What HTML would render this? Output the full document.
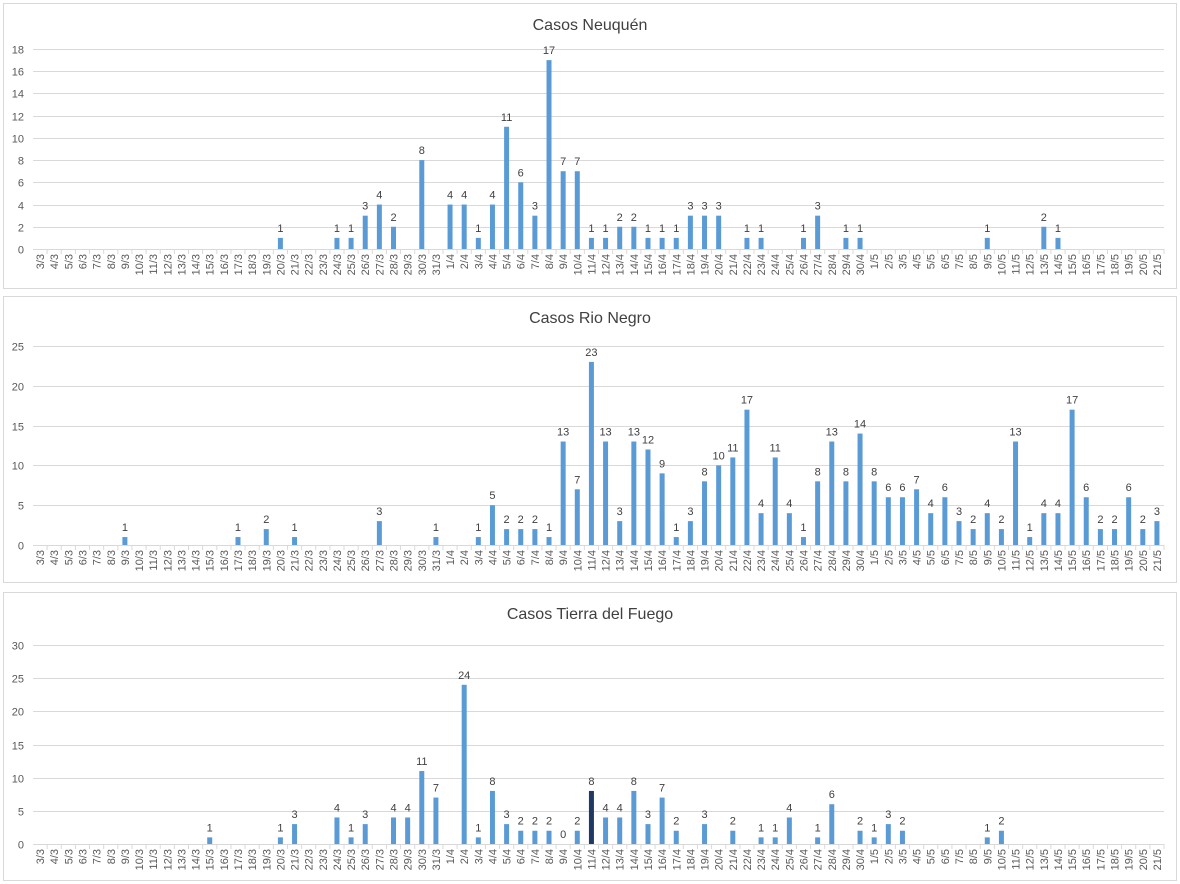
<!DOCTYPE html>
<html><head><meta charset="utf-8"><style>
body{margin:0;background:#fff;font-family:"Liberation Sans",sans-serif;}
svg{display:block}
</style></head><body>
<svg id="c" width="1180" height="884"></svg>
<script>
const categories=[];
for(let d=3;d<=31;d++)categories.push(d+"/3");
for(let d=1;d<=30;d++)categories.push(d+"/4");
for(let d=1;d<=21;d++)categories.push(d+"/5");
const neuquenDates=["20/3","24/3","25/3","26/3","27/3","28/3","30/3","1/4","2/4","3/4","4/4","5/4","6/4","7/4","8/4","9/4","10/4","11/4","12/4","13/4","14/4","15/4","16/4","17/4","18/4","19/4","20/4","22/4","23/4","26/4","27/4","29/4","30/4","9/5","13/5","14/5"];
const neuquenValues=[1,1,1,3,4,2,8,4,4,1,4,11,6,3,17,7,7,1,1,2,2,1,1,1,3,3,3,1,1,1,3,1,1,1,2,1];
const rioNegroDates=["9/3","17/3","19/3","21/3","27/3","31/3","3/4","4/4","5/4","6/4","7/4","8/4","9/4","10/4","11/4","12/4","13/4","14/4","15/4","16/4","17/4","18/4","19/4","20/4","21/4","22/4","23/4","24/4","25/4","26/4","27/4","28/4","29/4","30/4","1/5","2/5","3/5","4/5","5/5","6/5","7/5","8/5","9/5","10/5","11/5","12/5","13/5","14/5","15/5","16/5","17/5","18/5","19/5","20/5","21/5"];
const rioNegroValues=[1,1,2,1,3,1,1,5,2,2,2,1,13,7,23,13,3,13,12,9,1,3,8,10,11,17,4,11,4,1,8,13,8,14,8,6,6,7,4,6,3,2,4,2,13,1,4,4,17,6,2,2,6,2,3];
const tdfDates=["15/3","20/3","21/3","24/3","25/3","26/3","28/3","29/3","30/3","31/3","2/4","3/4","4/4","5/4","6/4","7/4","8/4","9/4","10/4","11/4","12/4","13/4","14/4","15/4","16/4","17/4","19/4","21/4","23/4","24/4","25/4","27/4","28/4","30/4","1/5","2/5","3/5","9/5","10/5"];
const tdfValues=[1,1,3,4,1,3,4,4,11,7,24,1,8,3,2,2,2,0,2,8,4,4,8,3,7,2,3,2,1,1,4,1,6,2,1,3,2,1,2];

const NS="http://www.w3.org/2000/svg";
const svg=document.getElementById('c');
function mk(tag,attrs,parent){const e=document.createElementNS(NS,tag);for(const k in attrs)e.setAttribute(k,attrs[k]);(parent||svg).appendChild(e);return e;}

function chart(cfg){
  const g=mk('g',{});
  
  
  const box=mk('rect',{x:3.5,y:cfg.top+.5,width:1173,height:cfg.bottom-cfg.top,fill:'#fff',stroke:'#d9d9d9'},g);
  
  
  const t=mk('text',{x:590,y:cfg.top+27,'text-anchor':'middle','font-size':16,fill:'#404040'},g);
  t.textContent=cfg.title;
  
  
  const x0=33,x1=1164,band=(x1-x0)/categories.length;
  const xs=i=>x0+band*(i+.5);
  const ys=v=>cfg.y0-(cfg.y0-cfg.yTop)*v/cfg.max;
  for(let v=0;v<=cfg.max;v+=cfg.step){
    const y=Math.round(ys(v))+.5;
    if(v>0){const l=mk('line',{x1:x0,x2:x1,y1:y,y2:y,stroke:'#d9d9d9'},g);
      
      }
    const tl=mk('text',{x:24,y:y+4,'text-anchor':'end','font-size':11,fill:'#595959'},g);
    tl.textContent=v;
    
    
  }
  const ax=mk('line',{x1:x0,x2:x1,y1:cfg.y0+.5,y2:cfg.y0+.5,stroke:'#d9d9d9'},g);
  
  
  categories.forEach((c,i)=>{
    const tx=x0+band*(i+1);
    mk('line',{x1:tx,x2:tx,y1:cfg.y0,y2:cfg.y0+5,stroke:'#d9d9d9'},g);
    const lb=mk('text',{x:0,y:0,'text-anchor':'end','font-size':11,fill:'#595959',transform:`translate(${xs(i)+4},${cfg.y0+5}) rotate(-90)`},g);
    lb.textContent=c;
    
    
  });
  cfg.dates.forEach((d,k)=>{
    const i=categories.indexOf(d);if(i<0)return;
    const v=cfg.values[k];
    const y=ys(v);
    const r=mk('rect',{x:xs(i)-2.5,y:y,width:5,height:cfg.y0-y,fill:(cfg.dark===d?'#203864':'#5b9bd5')},g);
    
    
    const vl=mk('text',{x:xs(i),y:y-6,'text-anchor':'middle','font-size':11,fill:'#404040'},g);
    vl.textContent=v;
    
    
  });
}
chart({name:'chart-neuquen',title:'Casos Neuquén',top:3,bottom:288,y0:249,yTop:49,max:18,step:2,dates:neuquenDates,values:neuquenValues});
chart({name:'chart-rio-negro',title:'Casos Rio Negro',top:296,bottom:582,y0:545,yTop:346,max:25,step:5,dates:rioNegroDates,values:rioNegroValues});
chart({name:'chart-tierra-del-fuego',title:'Casos Tierra del Fuego',top:592,bottom:880,y0:844,yTop:645,max:30,step:5,dates:tdfDates,values:tdfValues,dark:'11/4'});
</script>
</body></html>
